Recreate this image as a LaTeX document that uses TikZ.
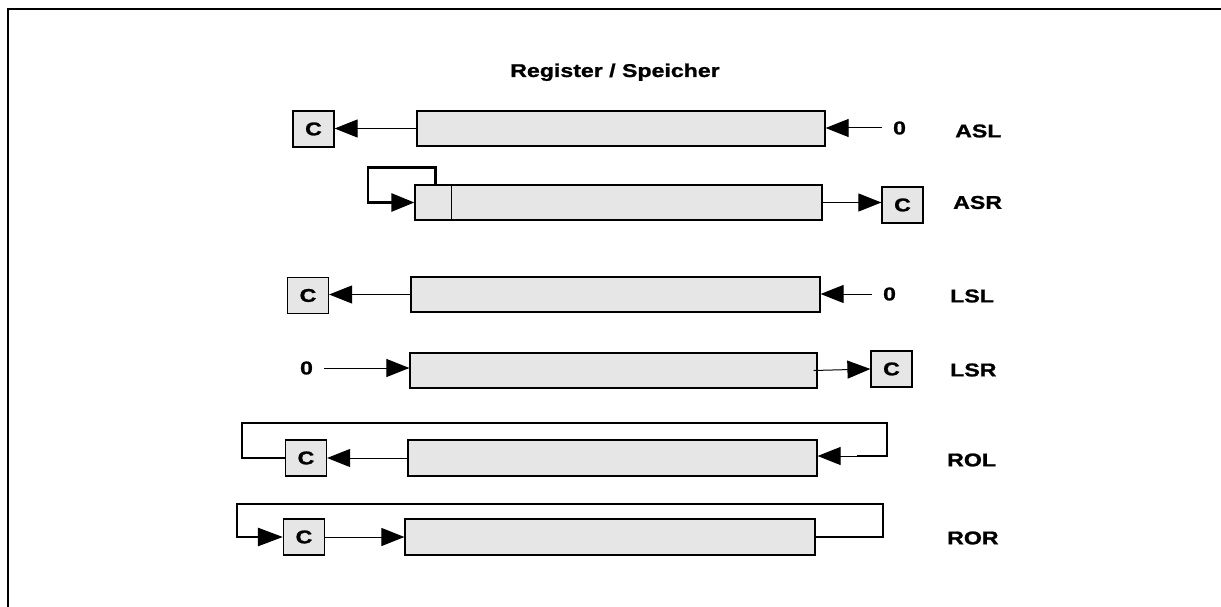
\documentclass[tikz,border=0pt]{standalone}
\usepackage{fontspec}
\setmainfont{Liberation Sans}[FakeStretch=1.25, FakeBold=1.2]
\usepackage{xcolor}
\usepackage{tikz}
\usetikzlibrary{arrows.meta}
\definecolor{regfill}{HTML}{E6E6E6}

\begin{document}
\begin{tikzpicture}[x=1pt, y=-1pt,
  every node/.style={font=\fontsize{18.5}{20}\selectfont\bfseries},
  regbox/.style={draw, line width=1.2pt, fill=regfill, minimum height=35pt, inner sep=0pt},
  cbox/.style={draw, line width=1.2pt, fill=regfill, minimum width=41pt, minimum height=36pt, inner sep=0pt},
  zerolabel/.style={inner xsep=11pt, inner ysep=0pt},
  oplabel/.style={anchor=west, inner sep=0pt},
  shiftarrow/.style={line width=1pt, -{Triangle[length=23pt,width=18pt]}},
  backline/.style={line width=2.6pt},
]
  \useasboundingbox (0,0) rectangle (1221,607);
  \draw[line width=2.2pt] (8,607) -- (8,9) -- (1221,9);

  \node[anchor=base] (title) at (615,77) {\fontsize{18.5}{20}\selectfont Register / Speicher};

  % ASL
  \node[regbox, minimum width=408pt] (reg1) at (621,128.5) {};
  \node[cbox] (c1) at (313.5,129) {C};
  \node[zerolabel] (z1) at (899.5,128) {0};
  \node[oplabel] (asl) at (955,131) {ASL};
  \draw[shiftarrow] (reg1.west) -- (reg1.west -| c1.east);
  \draw[shiftarrow] (z1.west) -- (z1.west -| reg1.east);

  % ASR
  \node[regbox, minimum width=407pt] (reg2) at (618.5,202.5) {};
  \node[cbox] (c2) at (902.5,205) {C};
  \node[oplabel] (asr) at (953,202.5) {ASR};
  \draw[line width=1.2pt] ([xshift=37pt]reg2.north west) -- ([xshift=37pt]reg2.south west);
  \draw[backline, -{Triangle[length=23pt,width=18pt]}]
    ([xshift=21pt]reg2.north west) -- ++(0,-17) -| (368,202.5) -- (reg2.west);
  \draw[shiftarrow] (reg2.east) -- (reg2.east -| c2.west);

  % LSL
  \node[regbox, minimum width=409pt] (reg3) at (615.5,294.5) {};
  \node[cbox] (c3) at (308,295.5) {C};
  \node[zerolabel] (z3) at (889.5,294) {0};
  \node[oplabel] (lsl) at (950,296) {LSL};
  \draw[shiftarrow] (reg3.west) -- (reg3.west -| c3.east);
  \draw[shiftarrow] (z3.west) -- (z3.west -| reg3.east);

  % LSR
  \node[zerolabel] (z4) at (306.5,368) {0};
  \node[regbox, minimum width=407pt] (reg4) at (613.5,370.5) {};
  \node[cbox] (c4) at (891.5,369) {C};
  \node[oplabel] (lsr) at (950,370) {LSR};
  \draw[shiftarrow] (z4.east) -- (z4.east -| reg4.west);
  \draw[shiftarrow] ([xshift=-4pt]reg4.east) -- (c4.west);

  % ROL
  \node[regbox, minimum width=409pt, minimum height=36pt] (reg5) at (612.5,458) {};
  \node[cbox] (c5) at (306,458) {C};
  \node[oplabel] (rol) at (947,460) {ROL};
  \coordinate (r5) at (857,456);
  \draw[backline] (r5) -| (887,423) -| (242,458) -- (c5.west);
  \draw[shiftarrow] (r5) -- (r5 -| reg5.east);
  \draw[shiftarrow] (reg5.west) -- (c5.east);

  % ROR
  \node[regbox, minimum width=410pt, minimum height=36pt] (reg6) at (610,537) {};
  \node[cbox] (c6) at (304,537) {C};
  \node[oplabel] (ror) at (947,538) {ROR};
  \draw[backline, -{Triangle[length=25pt,width=18pt]}]
    (reg6.east) -| (883,504) -| (237,537) -- (c6.west);
  \draw[shiftarrow] (c6.east) -- (reg6.west);
\end{tikzpicture}
\end{document}
